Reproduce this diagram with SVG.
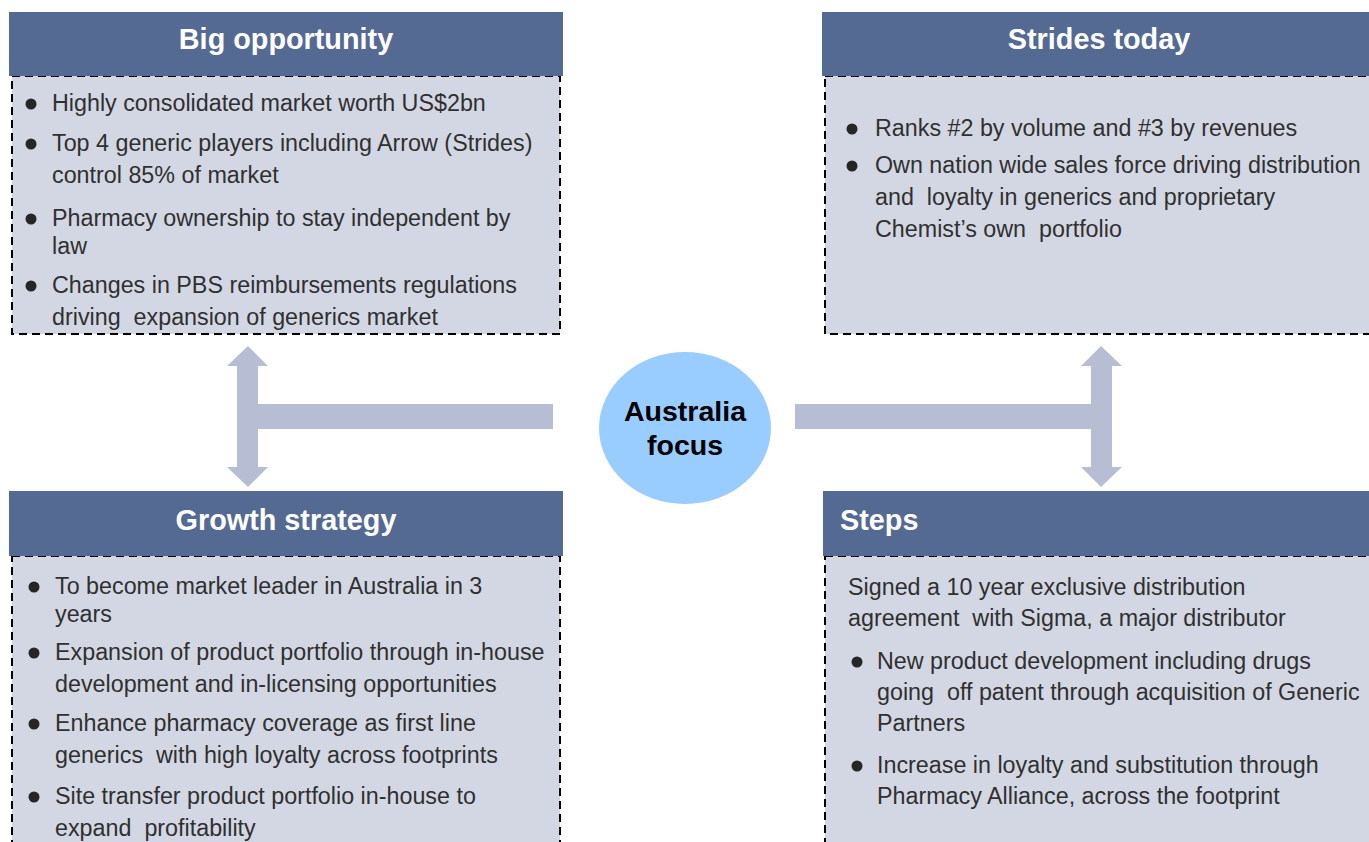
<svg xmlns="http://www.w3.org/2000/svg" width="1369" height="842" viewBox="0 0 1369 842">
  <style>
    .hdr { fill: #556a93; }
    .body { fill: #d3d7e4; stroke: #000; stroke-width: 2; stroke-dasharray: 8 5; }
    .title { font-family: "Liberation Sans", Arial, sans-serif; font-weight: bold; font-size: 28.8px; fill: #ffffff; }
    .txt { font-family: "Liberation Sans", Arial, sans-serif; font-size: 23.3px; fill: #303030; }
    .dot { fill: #262626; }
    .arrow { fill: #b7bdd2; }
    .hub { font-family: "Liberation Sans", Arial, sans-serif; font-weight: bold; font-size: 28.5px; fill: #000; text-anchor: middle; }
  </style>

  <!-- connectors: T-shaped double arrows from the hub to the four panels -->
  <g id="connectors">
    <path class="arrow" d="M553,404 L258,404 L258,366 L268,366 L248,346 L227,366 L237,366 L237,467 L227,467 L248,487 L268,467 L258,467 L258,429 L553,429 Z"/>
    <path class="arrow" d="M795,404 L1091,404 L1091,366 L1081,366 L1101,346 L1122,366 L1112,366 L1112,467 L1122,467 L1101,487 L1081,467 L1091,467 L1091,429 L795,429 Z"/>
  </g>

  <!-- central hub -->
  <g id="hub">
    <ellipse cx="685" cy="428" rx="86" ry="76" fill="#99ccff"/>
    <text class="hub" x="685" y="421">Australia</text>
    <text class="hub" x="685" y="455">focus</text>
  </g>

  <!-- Big opportunity -->
  <g id="big-opportunity">
    <rect class="body" x="12" y="76" width="548" height="258"/>
    <rect class="hdr" x="9" y="12" width="554" height="64"/>
    <text class="title" x="286" y="49" text-anchor="middle">Big opportunity</text>
    <circle class="dot" cx="31" cy="104" r="5.5"/>
    <text class="txt" x="52" y="111">Highly consolidated market worth US$2bn</text>
    <circle class="dot" cx="31" cy="144" r="5.5"/>
    <text class="txt" x="52" y="151">Top 4 generic players including Arrow (Strides)</text>
    <text class="txt" x="52" y="183">control 85% of market</text>
    <circle class="dot" cx="31" cy="219" r="5.5"/>
    <text class="txt" x="52" y="226">Pharmacy ownership to stay independent by</text>
    <text class="txt" x="52" y="254">law</text>
    <circle class="dot" cx="31" cy="286" r="5.5"/>
    <text class="txt" x="52" y="293">Changes in PBS reimbursements regulations</text>
    <text class="txt" x="52" y="325" xml:space="preserve">driving  expansion of generics market</text>
  </g>

  <!-- Strides today -->
  <g id="strides-today">
    <rect class="body" x="825" y="76" width="560" height="258"/>
    <rect class="hdr" x="822" y="12" width="560" height="64"/>
    <text class="title" x="1099" y="49" text-anchor="middle">Strides today</text>
    <circle class="dot" cx="852" cy="129" r="5.5"/>
    <text class="txt" x="875" y="136">Ranks #2 by volume and #3 by revenues</text>
    <circle class="dot" cx="852" cy="166" r="5.5"/>
    <text class="txt" x="875" y="173">Own nation wide sales force driving distribution</text>
    <text class="txt" x="875" y="205" xml:space="preserve">and  loyalty in generics and proprietary</text>
    <text class="txt" x="875" y="237" xml:space="preserve">Chemist’s own  portfolio</text>
  </g>

  <!-- Growth strategy -->
  <g id="growth-strategy">
    <rect class="body" x="12" y="556" width="548" height="300"/>
    <rect class="hdr" x="9" y="491" width="554" height="65"/>
    <text class="title" x="286" y="530" text-anchor="middle">Growth strategy</text>
    <circle class="dot" cx="34" cy="587" r="5.5"/>
    <text class="txt" x="55" y="594">To become market leader in Australia in 3</text>
    <text class="txt" x="55" y="622">years</text>
    <circle class="dot" cx="34" cy="653" r="5.5"/>
    <text class="txt" x="55" y="660">Expansion of product portfolio through in-house</text>
    <text class="txt" x="55" y="692">development and in-licensing opportunities</text>
    <circle class="dot" cx="34" cy="724" r="5.5"/>
    <text class="txt" x="55" y="731">Enhance pharmacy coverage as first line</text>
    <text class="txt" x="55" y="763" xml:space="preserve">generics  with high loyalty across footprints</text>
    <circle class="dot" cx="34" cy="797" r="5.5"/>
    <text class="txt" x="55" y="804">Site transfer product portfolio in-house to</text>
    <text class="txt" x="55" y="836" xml:space="preserve">expand  profitability</text>
  </g>

  <!-- Steps -->
  <g id="steps">
    <rect class="body" x="825" y="556" width="560" height="300"/>
    <rect class="hdr" x="823" y="491" width="560" height="65"/>
    <text class="title" x="840" y="530">Steps</text>
    <text class="txt" x="848" y="595">Signed a 10 year exclusive distribution</text>
    <text class="txt" x="848" y="626" xml:space="preserve">agreement  with Sigma, a major distributor</text>
    <circle class="dot" cx="857" cy="662" r="5.5"/>
    <text class="txt" x="877" y="669">New product development including drugs</text>
    <text class="txt" x="877" y="700" xml:space="preserve">going  off patent through acquisition of Generic</text>
    <text class="txt" x="877" y="731">Partners</text>
    <circle class="dot" cx="857" cy="766" r="5.5"/>
    <text class="txt" x="877" y="773">Increase in loyalty and substitution through</text>
    <text class="txt" x="877" y="804">Pharmacy Alliance, across the footprint</text>
  </g>
</svg>
